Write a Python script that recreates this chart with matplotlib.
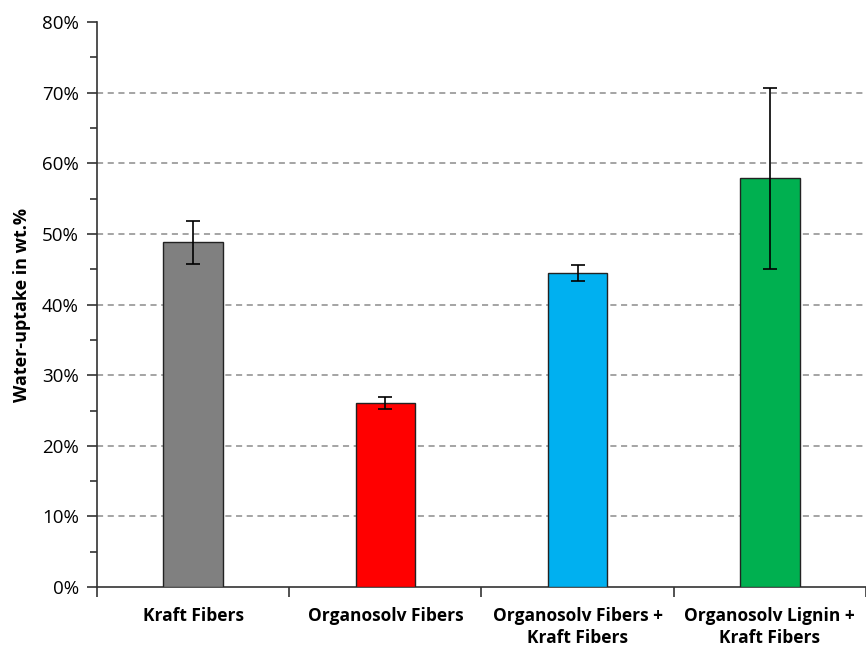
import matplotlib
matplotlib.use("Agg")
import matplotlib.pyplot as plt
import numpy as np
from matplotlib.ticker import MultipleLocator, PercentFormatter

# water uptake per sample (wt.%) with standard deviation
categories = ["Kraft Fibers", "Organosolv Fibers",
              "Organosolv Fibers +\nKraft Fibers", "Organosolv Lignin +\nKraft Fibers"]
uptake = [48.8, 26.0, 44.5, 57.9]
uptake_err = [3.0, 0.85, 1.15, 12.8]
bar_colors = ["#808080", "#ff0000", "#00b0f0", "#00b050"]

plt.rcParams["font.family"] = ["Open Sans", "DejaVu Sans"]

fig = plt.figure(figsize=(8.66, 6.48), dpi=100)
ax = fig.add_axes([0.112, 0.094, 0.888, 0.872])

x = np.arange(len(categories))
ax.bar(x, uptake, width=0.31, color=bar_colors, edgecolor="#222222",
       linewidth=1.0, zorder=3)
ax.errorbar(x, uptake, yerr=uptake_err, fmt="none", ecolor="black",
            elinewidth=1.2, capsize=5, capthick=1.2, zorder=4)

ax.set_xlim(-0.5, len(categories) - 0.5)
ax.set_ylim(0, 80)
ax.yaxis.set_major_locator(MultipleLocator(10))
ax.yaxis.set_minor_locator(MultipleLocator(5))
ax.yaxis.set_major_formatter(PercentFormatter(decimals=0))

# dashed gridlines between 10% and 70%, none along the top
for gy in range(10, 80, 10):
    ax.axhline(gy, linestyle=(0, (4, 3)), color="#8c8c8c", linewidth=1.1,
               zorder=0)

# category boundaries as x tick marks, labels centred on bars
ax.set_xticks(np.arange(-0.5, len(categories)), minor=False)
ax.set_xticklabels([])
ax.set_xticks(x, minor=True)
ax.set_xticklabels(categories, minor=True, fontsize=12.5, fontweight="bold",
                   linespacing=1.35)
ax.tick_params(axis="x", which="major", direction="out", length=7, width=1.2,
               color="#333333")
ax.tick_params(axis="x", which="minor", length=0, pad=14)
ax.tick_params(axis="y", which="major", direction="out", length=7, width=1.2,
               color="#333333", labelsize=13.5, pad=6)
ax.tick_params(axis="y", which="minor", direction="out", length=5, width=1.2,
               color="#333333")

ax.set_ylabel("Water-uptake in wt.%", fontsize=13, fontweight="bold", labelpad=8)

for side in ("top", "right"):
    ax.spines[side].set_visible(False)
for side in ("left", "bottom"):
    ax.spines[side].set_linewidth(1.2)
    ax.spines[side].set_color("#333333")

fig.savefig("out.png", dpi=100, facecolor="white")
